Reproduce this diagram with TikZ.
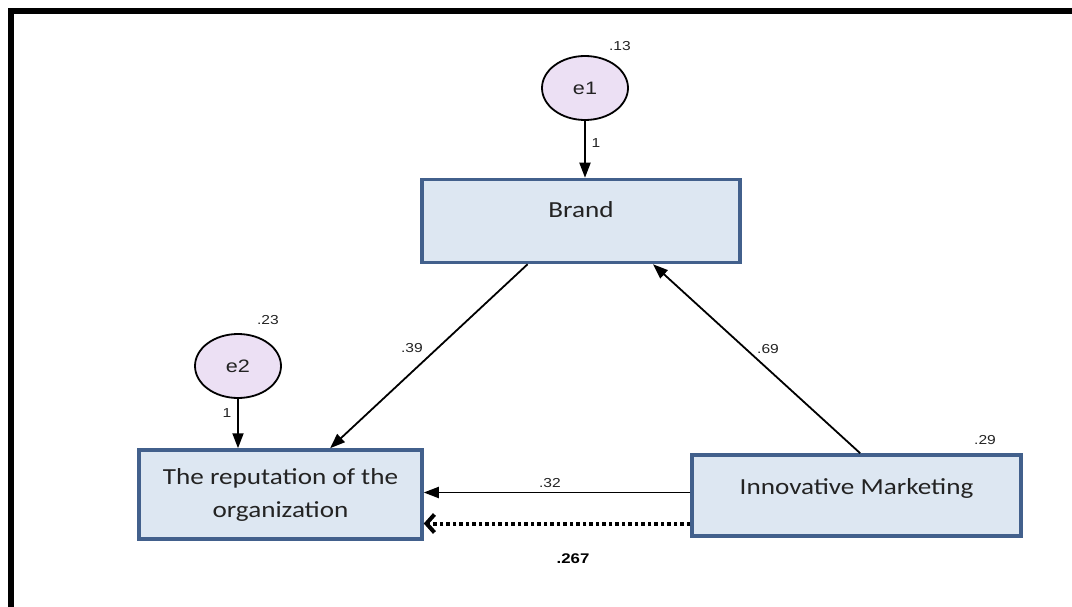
\documentclass[tikz,border=0pt]{standalone}
\usepackage{fontspec}
\setmainfont{Carlito}
\newfontfamily\boxfont[FakeStretch=1.18]{Carlito}
\newfontfamily\lblfont[FakeStretch=1.2]{Liberation Sans}
\usepackage{tikz}
\usetikzlibrary{positioning}
\usetikzlibrary{arrows.meta}
\usetikzlibrary{shapes.geometric}
\usepackage{xcolor}
\definecolor{boxblue}{RGB}{66,96,140}
\definecolor{boxfill}{RGB}{221,231,242}
\definecolor{errfill}{RGB}{236,224,244}
\definecolor{lbl}{RGB}{35,35,35}

\begin{document}
\begin{tikzpicture}[x=1pt, y=-1pt,
	var/.style={draw=boxblue, fill=boxfill, line width=3.5pt, align=center, text=lbl, font=\boxfont\fontsize{23}{33}\selectfont},
	err/.style={ellipse, draw=black, line width=1.8pt, fill=errfill, minimum width=86pt, minimum height=64pt, inner sep=0pt, text=lbl, font=\lblfont\fontsize{18}{20}\selectfont},
	wt/.style={text=lbl, font=\lblfont\fontsize{13}{15}\selectfont, inner sep=1pt},
	path/.style={-{Triangle[length=15pt, width=11pt]}, line width=1.8pt}]
			    		\useasboundingbox (0,0) rectangle (1072,607);
			    		\draw[black, line width=6pt] (11,607) -- (11,11) -- (1072,11);
			    		\node[var, minimum width=318pt, minimum height=83pt, text depth=22pt] (brand) at (581,221) {Brand};
			    		\node[var, minimum width=283pt, minimum height=89pt] (rep) at (280.5,494.5) {The reputation of the\\organization};
			    		\node[var, minimum width=329pt, minimum height=81pt, text depth=17pt] (inno) at (856.5,495.5) {Innovative Marketing};
			    		\node[err] (e1) at (585,88) {e1};
			    		\node[err] (e2) at (238,366) {e2};
			    		\draw[path] (e1.south) -- (e1.south |- brand.north);
			    		\draw[path] (e2.south) -- (e2.south |- rep.north);
			    		\draw[path] (brand.219.5) -- (rep.43);
			    		\draw[path] (inno.85) -- (brand.329);
			    		\draw[path] ([yshift=3pt]inno.west) -- ([yshift=3pt]inno.west -| rep.east);
			    		\draw[black, line width=4pt, dash pattern=on 3.5pt off 3pt, -{Straight Barb[length=8pt, width=18pt]}] ([yshift=-28pt]inno.west) -- ([yshift=-28pt]inno.west -| rep.east);
			    		\node[wt] (w13) at (620,46) {.13};
			    		\node[wt] (w1a) at (596,143) {1};
			    		\node[wt] (w23) at (268,320) {.23};
			    		\node[wt] (w1b) at (227,413) {1};
			    		\node[wt] (w39) at (412,348) {.39};
			    		\node[wt] (w69) at (768,349) {.69};
			    		\node[wt] (w29) at (985,440) {.29};
			    		\node[wt] (w32) at (550,483) {.32};
			    		\node[wt, font=\lblfont\bfseries\fontsize{14}{16}\selectfont, text=black] (w267) at (573,559) {.267};
			    	\end{tikzpicture}
\end{document}
